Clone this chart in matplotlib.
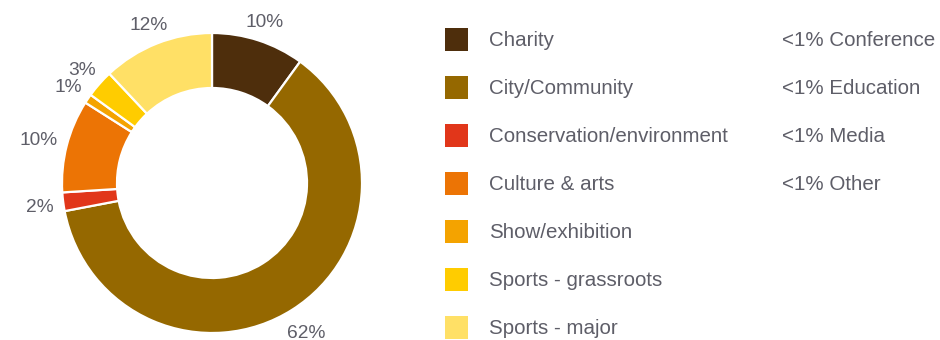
import numpy as np
import matplotlib
matplotlib.use("Agg")
import matplotlib.pyplot as plt
from matplotlib.patches import Rectangle

# share of events by category
categories = ["Charity", "City/Community", "Conservation/environment", "Culture & arts",
              "Show/exhibition", "Sports - grassroots", "Sports - major"]
shares = [10, 62, 2, 10, 1, 3, 12]
colors = ["#4e2e0c", "#956800", "#e1361a", "#ec7405", "#f4a300", "#ffcc00", "#ffe066"]
minor = ["<1% Conference", "<1% Education", "<1% Media", "<1% Other"]

TEXT = "#5e5e68"
plt.rcParams['font.family'] = ['Liberation Sans', 'DejaVu Sans']

LEG_FS = 14.8
PCT_FS = 13.8
CAP = 0.716  # cap height / em

fig = plt.figure(figsize=(9.4, 3.4), dpi=100)
ax = fig.add_axes([0, 0, 1, 1])

cx, cy, R = 212, 157, 150
wedges, _ = ax.pie(shares, colors=colors, startangle=90, counterclock=False,
                   radius=R, center=(cx, cy),
                   wedgeprops=dict(width=55, edgecolor="white", linewidth=1.6))
ax.set_xlim(0, 940)
ax.set_ylim(0, 340)
ax.set_aspect("equal")
ax.axis("off")


def cap_half(fs):
    return CAP * fs * 100 / 72 / 2


# percentage labels just outside the ring, pushed out by their own size
renderer = fig.canvas.get_renderer()
for w, v in zip(wedges, shares):
    mid = np.deg2rad((w.theta1 + w.theta2) / 2)
    t = ax.text(0, 0, f"{v}%", ha="center", va="baseline",
                fontsize=PCT_FS, color=TEXT)
    hw = t.get_window_extent(renderer).width / 2
    hh = cap_half(PCT_FS)
    d = R + 9 + hw * abs(np.cos(mid)) + hh * abs(np.sin(mid))
    t.set_position((cx + d * np.cos(mid), cy + d * np.sin(mid) - hh))

# legend column
for i, (name, col) in enumerate(zip(categories, colors)):
    y = 340 - (39.5 + 48 * i)
    ax.add_patch(Rectangle((445, y - 11.5), 23, 23, color=col, lw=0))
    ax.text(489, y - cap_half(LEG_FS) + 0.8, name, ha="left", va="baseline",
            fontsize=LEG_FS, color=TEXT)

for i, name in enumerate(minor):
    y = 340 - (39.5 + 48 * i)
    ax.text(782, y - cap_half(LEG_FS) + 0.8, name, ha="left", va="baseline",
            fontsize=LEG_FS, color=TEXT)

fig.savefig("out.png", dpi=100)
